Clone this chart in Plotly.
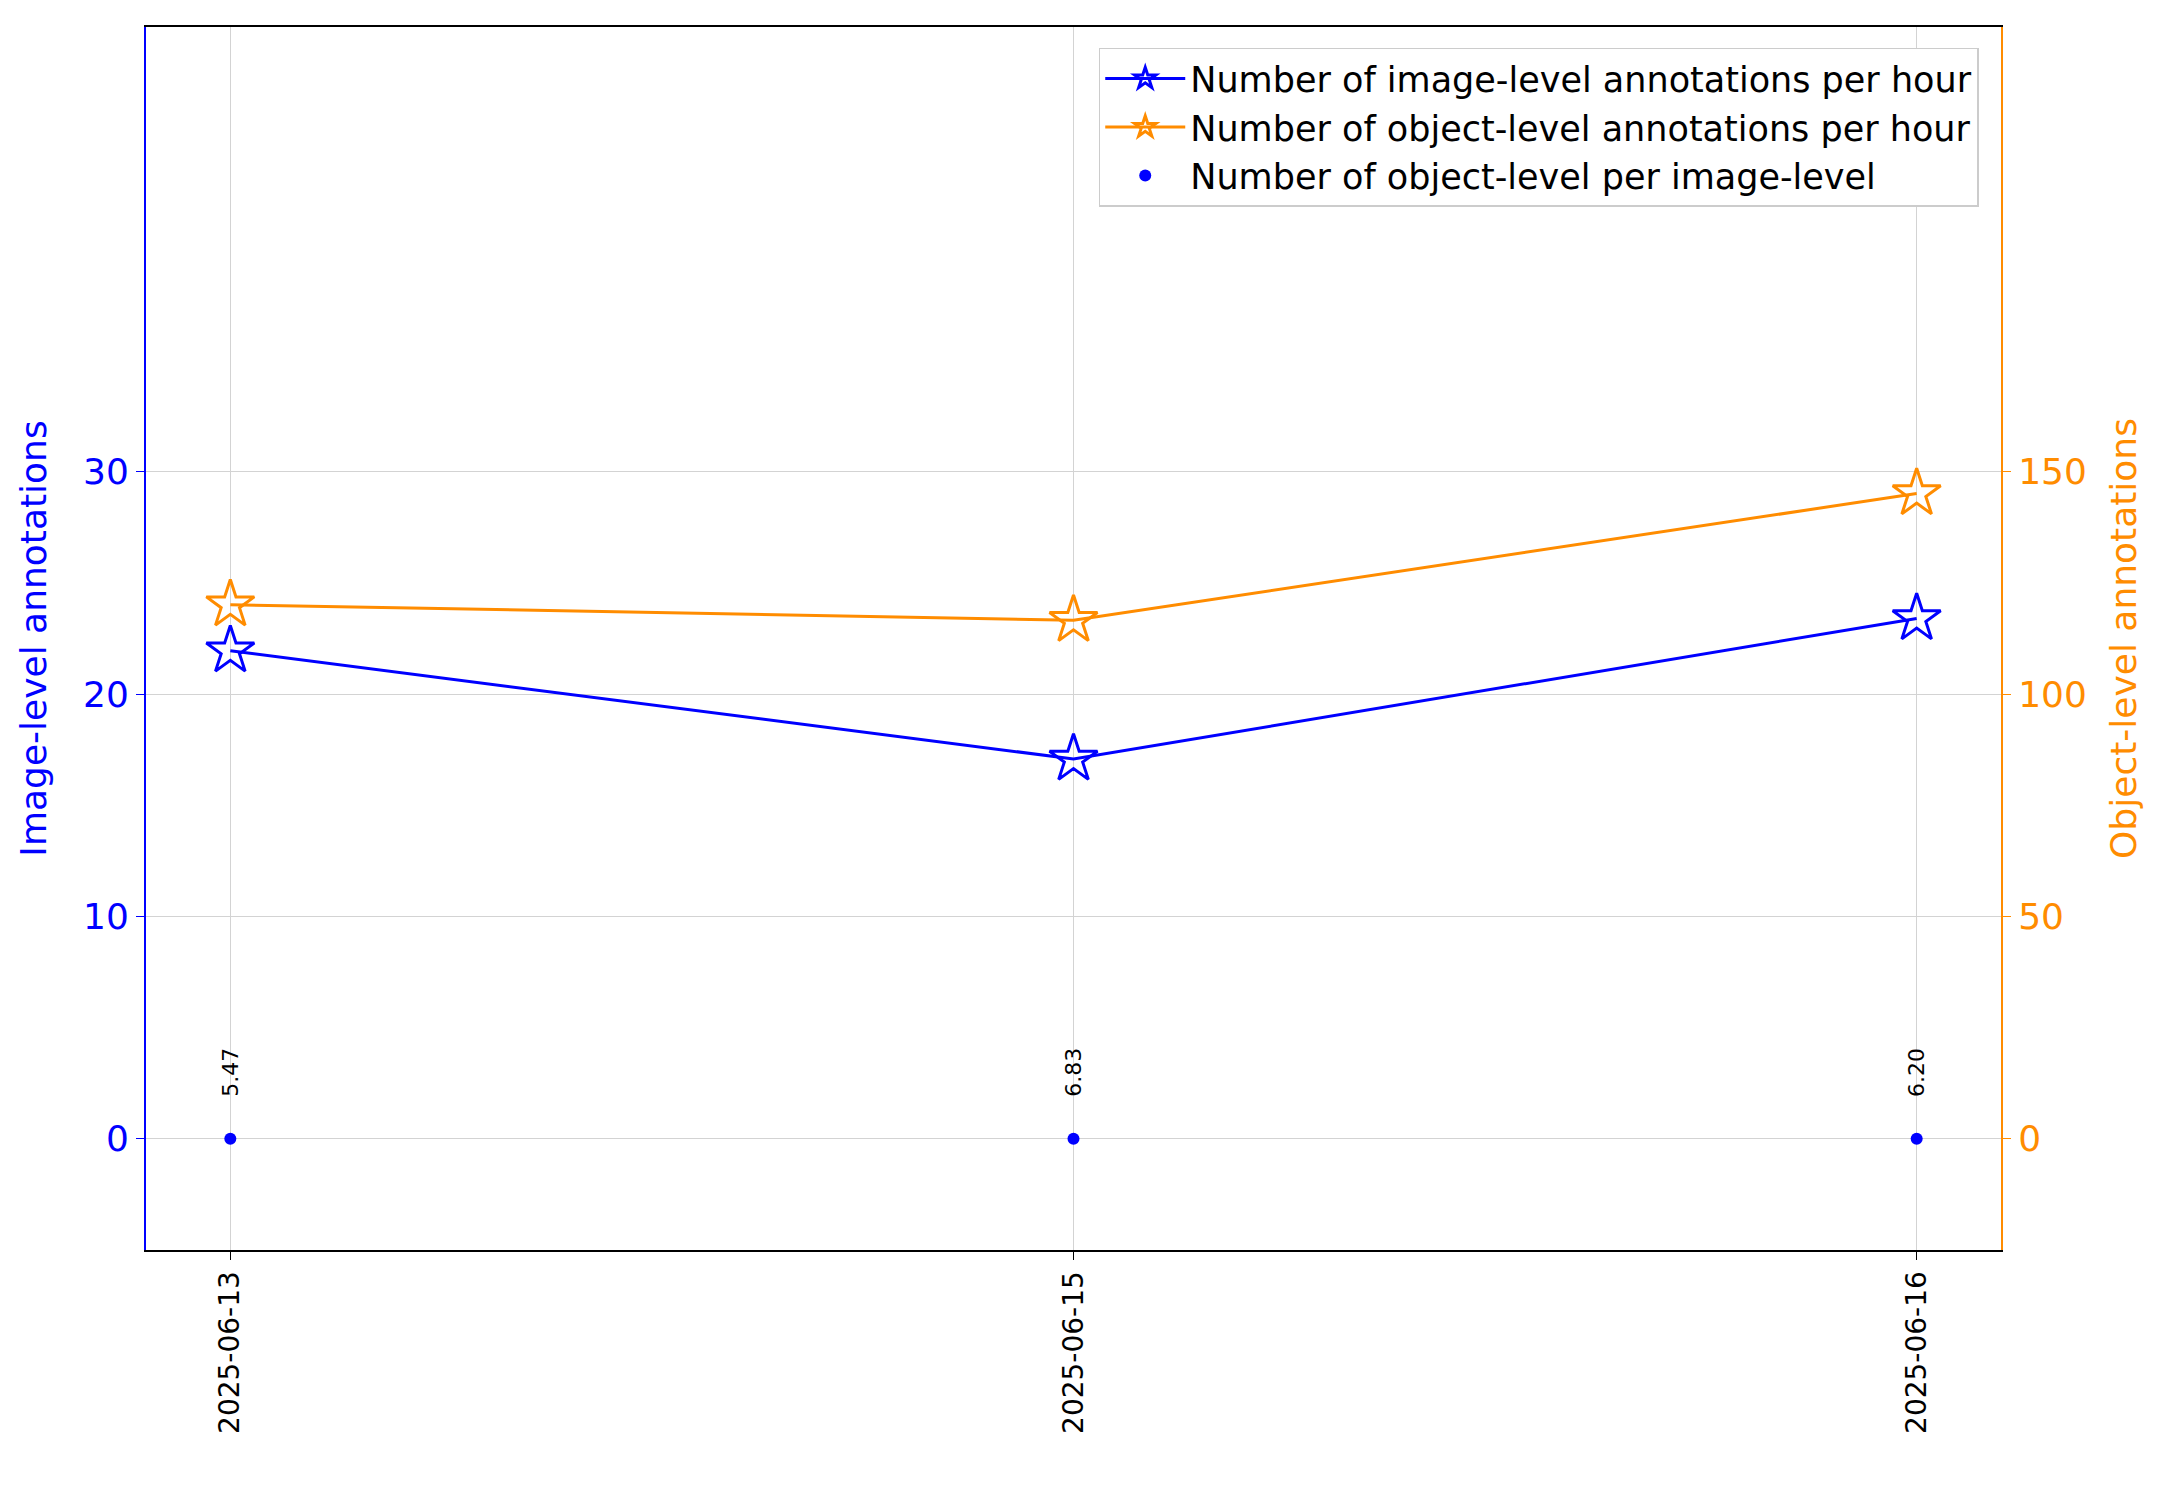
import plotly.graph_objects as go

dates = ["2025-06-13", "2025-06-15", "2025-06-16"]
image_per_hour = [21.95, 17.08, 23.4]
object_per_hour = [120.1, 116.6, 145.1]
ratio_labels = ["5.47", "6.83", "6.20"]
ratio_y = [0, 0, 0]

BLUE = "#0000ff"
ORANGE = "#ff8c00"
FONT = "DejaVu Sans"

fig = go.Figure()
fig.add_trace(go.Scatter(
    x=dates, y=image_per_hour, mode="lines+markers",
    name="Number of image-level annotations per hour",
    line=dict(color=BLUE, width=3),
    marker=dict(symbol="star-open", size=36, color=BLUE, line=dict(width=3)),
))
fig.add_trace(go.Scatter(
    x=dates, y=object_per_hour, mode="lines+markers", yaxis="y2",
    name="Number of object-level annotations per hour",
    line=dict(color=ORANGE, width=3),
    marker=dict(symbol="star-open", size=36, color=ORANGE, line=dict(width=3)),
))
fig.add_trace(go.Scatter(
    x=dates, y=ratio_y, mode="markers",
    name="Number of object-level per image-level",
    marker=dict(color=BLUE, size=12),
))

for d, lab in zip(dates, ratio_labels):
    fig.add_annotation(x=d, y=0, text=lab, textangle=-90, showarrow=False,
                       yanchor="bottom", yshift=40, font=dict(size=22, color="black"))

fig.update_layout(
    width=2173, height=1485,
    paper_bgcolor="white", plot_bgcolor="white",
    font=dict(family=FONT),
    margin=dict(l=138, r=180, t=19, b=243),
    showlegend=True,
    legend=dict(x=0.988, y=0.983, xanchor="right", yanchor="top",
                bgcolor="white", bordercolor="#cccccc", borderwidth=1.5,
                itemwidth=80, tracegroupgap=6,
                font=dict(size=35, color="black")),
    xaxis=dict(type="category", range=[-0.1, 2.1], tickangle=-90,
               tickfont=dict(size=28, color="black"),
               showgrid=True, gridcolor="#d3d3d3",
               showline=True, linecolor="black", linewidth=2, mirror=True,
               ticks="outside", ticklen=8, tickcolor="black"),
    yaxis=dict(range=[-5, 50], tickvals=[0, 10, 20, 30],
               title=dict(text="Image-level annotations", font=dict(size=36, color=BLUE), standoff=25),
               tickfont=dict(size=36, color=BLUE),
               showgrid=True, gridcolor="#d3d3d3", zeroline=False,
               showline=True, linecolor=BLUE, linewidth=2,
               ticks="outside", ticklen=8, tickcolor=BLUE),
    yaxis2=dict(range=[-25, 250], tickvals=[0, 50, 100, 150], overlaying="y", side="right",
                title=dict(text="Object-level annotations", font=dict(size=36, color=ORANGE), standoff=25),
                tickfont=dict(size=36, color=ORANGE),
                showgrid=False, zeroline=False,
                showline=True, linecolor=ORANGE, linewidth=2,
                ticks="outside", ticklen=8, tickcolor=ORANGE),
)

fig.write_html("out.html")
